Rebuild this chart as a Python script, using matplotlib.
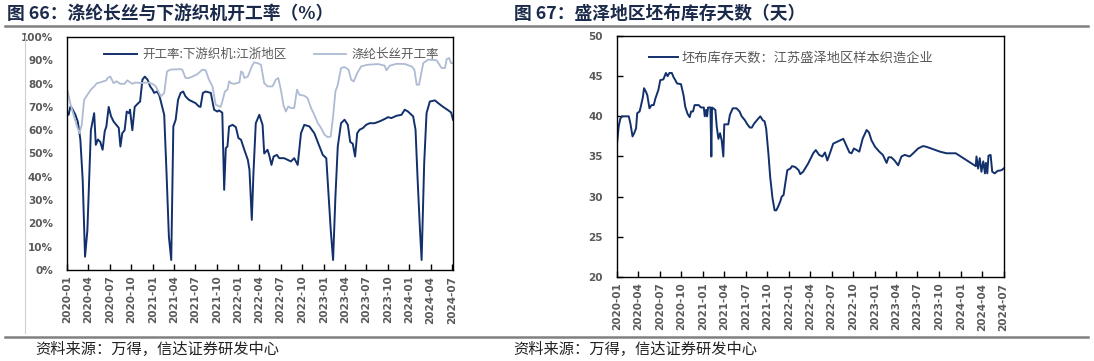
import pandas as pd
import matplotlib
matplotlib.use('Agg')
import matplotlib.pyplot as plt
import matplotlib.dates as mdates
from matplotlib.ticker import FuncFormatter

plt.rcParams['font.family'] = ['Noto Sans CJK SC', 'DejaVu Sans']

# data: left panel (weaving / filament operating rate, %) =====================
loom_dates = ['2020-01-01', '2020-01-08', '2020-01-15', '2020-01-22', '2020-02-06', '2020-02-16',
              '2020-02-27', '2020-03-08', '2020-03-18', '2020-03-28', '2020-04-12', '2020-04-26',
              '2020-05-03', '2020-05-12', '2020-05-22', '2020-06-01', '2020-06-10', '2020-06-17',
              '2020-06-27', '2020-07-07', '2020-07-18', '2020-08-09', '2020-08-16', '2020-08-24',
              '2020-09-03', '2020-09-12', '2020-09-22', '2020-09-26', '2020-10-06', '2020-10-16',
              '2020-10-31', '2020-11-08', '2020-11-18', '2020-11-28', '2020-12-10', '2020-12-21',
              '2020-12-31', '2021-01-07', '2021-01-19', '2021-01-29', '2021-02-08', '2021-02-19',
              '2021-03-01', '2021-03-11', '2021-03-21', '2021-03-30', '2021-04-09', '2021-04-19',
              '2021-04-30', '2021-05-11', '2021-05-21', '2021-06-05', '2021-06-19', '2021-07-03',
              '2021-07-17', '2021-07-24', '2021-08-03', '2021-08-15', '2021-08-29', '2021-09-06',
              '2021-09-20', '2021-10-04', '2021-10-11', '2021-10-18', '2021-10-25', '2021-11-02',
              '2021-11-09', '2021-11-16', '2021-11-23', '2021-12-08', '2021-12-22', '2022-01-02',
              '2022-01-13', '2022-01-27', '2022-02-11', '2022-02-18', '2022-02-28', '2022-03-07',
              '2022-03-17', '2022-04-01', '2022-04-15', '2022-04-22', '2022-05-06', '2022-05-13',
              '2022-05-23', '2022-06-01', '2022-06-15', '2022-06-25', '2022-07-16', '2022-08-14',
              '2022-08-28', '2022-09-12', '2022-09-26', '2022-10-10', '2022-11-01', '2022-11-22',
              '2022-12-14', '2022-12-28', '2023-01-12', '2023-01-22', '2023-01-31', '2023-02-10',
              '2023-02-20', '2023-03-02', '2023-03-16', '2023-03-31', '2023-04-14', '2023-04-24',
              '2023-05-05', '2023-05-15', '2023-05-24', '2023-06-03', '2023-06-17', '2023-07-01',
              '2023-07-16', '2023-08-06', '2023-08-28', '2023-09-18', '2023-10-03', '2023-10-17',
              '2023-11-08', '2023-11-29', '2023-12-13', '2023-12-27', '2024-01-18', '2024-01-28',
              '2024-02-06', '2024-02-16', '2024-02-23', '2024-03-05', '2024-03-15', '2024-03-29',
              '2024-04-20', '2024-05-04', '2024-05-25', '2024-06-16', '2024-06-28', '2024-07-06']
loom_rate = [68, 66.6, 70, 69.5, 66.6, 63.7,
             56, 38.7, 5.7, 17, 60, 67.3,
             53.7, 56, 55, 51.6, 59.5, 61.6,
             70, 66, 63.7, 61, 53, 58.7,
             60, 68, 67.3, 68.8, 60, 70,
             71.6, 72.3, 81.7, 83, 81.7, 78.8,
             77.4, 76, 76.6, 75, 71, 66.6,
             41.5, 14.3, 4.3, 61.6, 64.5, 73,
             76, 76.6, 74.5, 73, 72.3, 71.6,
             70.2, 70, 76, 76.6, 76.2, 76,
             68.8, 68, 68.5, 68, 67.5, 34.4,
             52.3, 53, 61.6, 62.3, 61.3, 56.6,
             55.9, 51.6, 47.3, 43, 21.5, 41.5,
             63, 66.6, 62.3, 50, 51.6, 49.4,
             45.1, 48.7, 49.4, 48, 48, 46.6,
             48, 45.1, 58.7, 62.3, 61.6, 58.7,
             53, 49.4, 48, 31.5, 17.2, 4.3,
             31.5, 53, 63, 64.5, 62.3, 55,
             54.2, 48.7, 58.7, 60.2, 60.9, 62.3,
             63, 63, 63.8, 64.8, 65.6, 65.2,
             66.2, 66.6, 68.8, 68, 65.9, 60.2,
             38.7, 17.2, 4.3, 45.8, 67.3, 72.3,
             72.8, 71.6, 70, 68.5, 67.6, 64.5]

fil_dates = ['2020-01-01', '2020-01-15', '2020-01-29', '2020-02-13', '2020-02-23', '2020-03-04',
             '2020-03-14', '2020-03-28', '2020-04-12', '2020-04-26', '2020-05-08', '2020-05-22',
             '2020-06-05', '2020-06-17', '2020-06-22', '2020-07-04', '2020-07-18', '2020-07-30',
             '2020-08-16', '2020-09-03', '2020-09-14', '2020-10-06', '2020-10-20', '2020-11-11',
             '2020-12-10', '2020-12-31', '2021-01-14', '2021-02-05', '2021-02-19', '2021-03-03',
             '2021-03-17', '2021-04-30', '2021-05-07', '2021-05-21', '2021-06-05', '2021-06-19',
             '2021-07-10', '2021-08-01', '2021-08-15', '2021-08-29', '2021-09-13', '2021-09-27',
             '2021-10-18', '2021-10-25', '2021-11-05', '2021-11-16', '2021-11-23', '2021-12-01',
             '2021-12-15', '2022-01-06', '2022-01-13', '2022-01-20', '2022-01-27', '2022-02-11',
             '2022-02-28', '2022-03-10', '2022-03-24', '2022-04-08', '2022-04-22', '2022-05-06',
             '2022-05-27', '2022-06-11', '2022-06-21', '2022-07-02', '2022-07-13', '2022-07-23',
             '2022-08-03', '2022-08-14', '2022-08-28', '2022-09-09', '2022-09-19', '2022-10-10',
             '2022-10-24', '2022-11-08', '2022-11-22', '2022-12-07', '2022-12-21', '2023-01-05',
             '2023-01-19', '2023-01-31', '2023-02-10', '2023-02-20', '2023-03-02', '2023-03-16',
             '2023-03-31', '2023-04-17', '2023-04-28', '2023-05-09', '2023-05-24', '2023-06-10',
             '2023-07-08', '2023-08-21', '2023-09-18', '2023-09-26', '2023-10-10', '2023-11-08',
             '2023-12-13', '2024-01-11', '2024-01-23', '2024-02-02', '2024-02-12', '2024-03-01',
             '2024-03-22', '2024-04-27', '2024-05-18', '2024-06-02', '2024-06-09', '2024-06-19',
             '2024-06-28', '2024-07-06']
fil_rate = [78, 71.6, 66.6, 61.6, 58.7, 62.3,
            73, 75.2, 77.4, 78.8, 80.2, 80.5,
            81, 81.4, 82.4, 83, 80.2, 81,
            79.9, 79.9, 81.4, 79.9, 80.5, 80.2,
            80.5, 79.9, 78.8, 74.5, 76, 85.2,
            86, 86.2, 86, 82.4, 82.4, 83,
            84, 86, 85.7, 81.7, 78.8, 70.9,
            70, 72.3, 76.6, 77.4, 81, 80.2,
            79.9, 80.5, 85.2, 84.8, 82.4, 83,
            87.4, 89.1, 88.8, 88.1, 80.2, 78.8,
            78.8, 81.7, 82.4, 77.4, 70.9, 68,
            70.2, 69.5, 69.5, 77.4, 75.2, 74.8,
            73.8, 69.5, 66.6, 63, 60.9, 58,
            57, 57.3, 65.9, 76.6, 79.5, 86.7,
            87.1, 86, 81.7, 80.9, 84.5, 87.4,
            88.1, 88.4, 87.7, 85.7, 87.7, 88.5,
            88.4, 87.4, 86, 79.5, 79.5, 88.8,
            90.3, 90, 86.7, 86.7, 90.5, 91,
            88.8, 88.8]

# data: right panel (grey fabric inventory days) ==============================
inv_dates = ['2020-01-01', '2020-01-08', '2020-01-15', '2020-01-22', '2020-02-20', '2020-02-27',
             '2020-03-07', '2020-03-14', '2020-03-22', '2020-03-27', '2020-04-06', '2020-04-11',
             '2020-04-20', '2020-04-25', '2020-05-04', '2020-05-09', '2020-05-18', '2020-05-27',
             '2020-06-05', '2020-06-12', '2020-06-25', '2020-07-03', '2020-07-16', '2020-07-27',
             '2020-08-03', '2020-08-11', '2020-08-21', '2020-08-28', '2020-09-05', '2020-09-12',
             '2020-09-29', '2020-10-10', '2020-10-17', '2020-10-27', '2020-11-05', '2020-11-11',
             '2020-11-19', '2020-11-26', '2020-12-13', '2020-12-23', '2021-01-04', '2021-01-08',
             '2021-01-14', '2021-01-18', '2021-01-22', '2021-02-01', '2021-02-05', '2021-02-08',
             '2021-02-22', '2021-02-28', '2021-03-07', '2021-03-14', '2021-03-21', '2021-03-28',
             '2021-04-01', '2021-04-18', '2021-04-25', '2021-05-07', '2021-05-23', '2021-06-05',
             '2021-06-14', '2021-06-28', '2021-07-08', '2021-07-19', '2021-07-27', '2021-08-06',
             '2021-08-20', '2021-09-01', '2021-09-12', '2021-09-19', '2021-09-26', '2021-10-06',
             '2021-10-13', '2021-10-23', '2021-11-01', '2021-11-08', '2021-11-15', '2021-11-25',
             '2021-12-01', '2021-12-09', '2021-12-16', '2021-12-25', '2022-01-07', '2022-01-14',
             '2022-01-27', '2022-02-11', '2022-02-18', '2022-03-02', '2022-03-23', '2022-04-14',
             '2022-04-25', '2022-05-09', '2022-05-23', '2022-06-03', '2022-06-13', '2022-06-24',
             '2022-07-08', '2022-07-22', '2022-08-06', '2022-08-20', '2022-09-01', '2022-09-15',
             '2022-09-24', '2022-10-04', '2022-10-16', '2022-10-27', '2022-11-10', '2022-11-27',
             '2022-12-07', '2022-12-18', '2023-01-02', '2023-01-20', '2023-02-04', '2023-02-20',
             '2023-02-28', '2023-03-12', '2023-03-26', '2023-04-10', '2023-04-24', '2023-05-08',
             '2023-05-29', '2023-06-13', '2023-07-04', '2023-07-25', '2023-08-09', '2023-09-07',
             '2023-10-05', '2023-11-02', '2023-12-11', '2024-01-12', '2024-03-05', '2024-03-08',
             '2024-03-15', '2024-03-22', '2024-03-29', '2024-04-06', '2024-04-13', '2024-04-17',
             '2024-04-23', '2024-04-28', '2024-05-07', '2024-05-14', '2024-05-25', '2024-06-05',
             '2024-06-23', '2024-07-01']
inv_days = [36.6, 38.7, 39.7, 40, 40, 39.1,
            37.5, 37.9, 38.5, 40.4, 40.6, 41.2,
            42.4, 43.5, 43, 42.6, 41, 41.4,
            41.4, 42.2, 43.3, 44.5, 44.6, 45.4,
            45, 45.4, 45.4, 44.9, 44.5, 44.1,
            44, 42.6, 41.2, 40.3, 39.9, 40.6,
            40.6, 41.4, 41.4, 41.1, 41.1, 40,
            40.8, 40, 41.1, 41.1, 35, 41.1,
            40.8, 38.7, 37.2, 37.9, 37, 35,
            39, 39, 40.2, 41, 41, 40.6,
            40, 39.5, 39, 38.6, 38.6, 39.1,
            39.6, 40, 39.5, 39.4, 38.5, 35.2,
            32.5, 29.8, 28.3, 28.3, 28.7, 29.4,
            30, 30.2, 31.6, 33.3, 33.5, 33.8,
            33.7, 33.3, 32.8, 33.1, 34.1, 35.4,
            35.8, 35.2, 35.0, 35.5, 34.5, 35.4,
            36.6, 36.8, 37.0, 37.2, 36.4, 35.5,
            35.4, 36.0, 35.8, 35.6, 37.2, 38.3,
            38.0, 37.0, 36.2, 35.6, 35.2, 34.2,
            34.9, 34.9, 34.5, 33.9, 35.0, 35.2,
            35.0, 35.4, 36.0, 36.3, 36.2, 35.9,
            35.6, 35.4, 35.4, 34.8, 33.8, 35.0,
            33.5, 34.8, 33.1, 34.4, 32.9, 34.2,
            32.9, 35.1, 35.2, 33.1, 32.9, 33.2,
            33.3, 33.5]

navy = '#12306B'
light = '#AEBBD2'
gray_txt = '#595959'

fig = plt.figure(figsize=(10.94, 3.61), dpi=100)

# page decorations: titles, separator lines, sources
fig.text(7/1094, 1-14/361, '图 66：涤纶长丝与下游织机开工率（%）', fontsize=12.8,
         fontweight='bold', color='#1B2A4A', va='center', ha='left')
fig.text(514/1094, 1-14/361, '图 67：盛泽地区坯布库存天数（天）', fontsize=12.8,
         fontweight='bold', color='#1B2A4A', va='center', ha='left')
fig.add_artist(plt.Line2D([5/1094, 1088/1094], [1-26/361, 1-26/361], color='#808080', lw=1.8))
fig.add_artist(plt.Line2D([5/1094, 1088/1094], [1-337/361, 1-337/361], color='#808080', lw=1.8))
fig.add_artist(plt.Line2D([25/1094, 25/1094], [1-35/361, 1-333/361], color='#D0D0D0', lw=0.8))
fig.text(35/1094, 1-349/361, '资料来源：万得，信达证券研发中心', fontsize=11,
         color='#222222', va='center', ha='left')
fig.text(513/1094, 1-349/361, '资料来源：万得，信达证券研发中心', fontsize=11,
         color='#222222', va='center', ha='left')


def style_axes(ax, xmax):
    ax.set_xlim(pd.Timestamp('2020-01-01'), pd.Timestamp(xmax))
    ax.xaxis.set_major_locator(mdates.MonthLocator(bymonth=[1, 4, 7, 10]))
    ax.xaxis.set_major_formatter(mdates.DateFormatter('%Y-%m'))
    for s in ax.spines.values():
        s.set_color('black')
        s.set_linewidth(1.0)
    ax.tick_params(axis='x', direction='in', length=4, width=1, rotation=90,
                   labelsize=7.5, labelcolor=gray_txt, pad=4)
    ax.tick_params(axis='y', labelsize=7.5, labelcolor=gray_txt)
    for lab in ax.get_xticklabels() + ax.get_yticklabels():
        lab.set_fontfamily('DejaVu Sans')
        lab.set_fontweight('bold')


# left chart
ax1 = fig.add_axes([67/1094, 1-270/361, 386/1094, 233/361])
ax1.plot(pd.to_datetime(loom_dates), loom_rate, color=navy, lw=1.4, label='开工率:下游织机:江浙地区')
ax1.plot(pd.to_datetime(fil_dates), fil_rate, color=light, lw=1.3, label='涤纶长丝开工率')
ax1.set_ylim(0, 100)
ax1.set_yticks(range(0, 101, 10))
ax1.yaxis.set_major_formatter(FuncFormatter(lambda v, p: f'{v:.0f}%'))
ax1.tick_params(axis='y', length=0, pad=10)
style_axes(ax1, '2024-07-06')
ax1.legend(loc='upper center', bbox_to_anchor=(0.53, 1.0), ncol=2, frameon=False,
           fontsize=9, labelcolor=gray_txt, handlelength=2.6, columnspacing=2.2,
           handletextpad=0.4)

# right chart
ax2 = fig.add_axes([617/1094, 1-277/361, 387/1094, 241/361])
ax2.plot(pd.to_datetime(inv_dates), inv_days, color=navy, lw=1.4,
         label='坯布库存天数：江苏盛泽地区样本织造企业')
ax2.set_ylim(20, 50)
ax2.set_yticks(range(20, 51, 5))
ax2.tick_params(axis='y', direction='in', length=4, width=1, pad=10)
style_axes(ax2, '2024-07-03')
ax2.legend(loc='upper center', bbox_to_anchor=(0.45, 0.985), frameon=False,
           fontsize=9.5, labelcolor=gray_txt, handlelength=2.2, handletextpad=0.2)

fig.savefig('out.png', dpi=100)
